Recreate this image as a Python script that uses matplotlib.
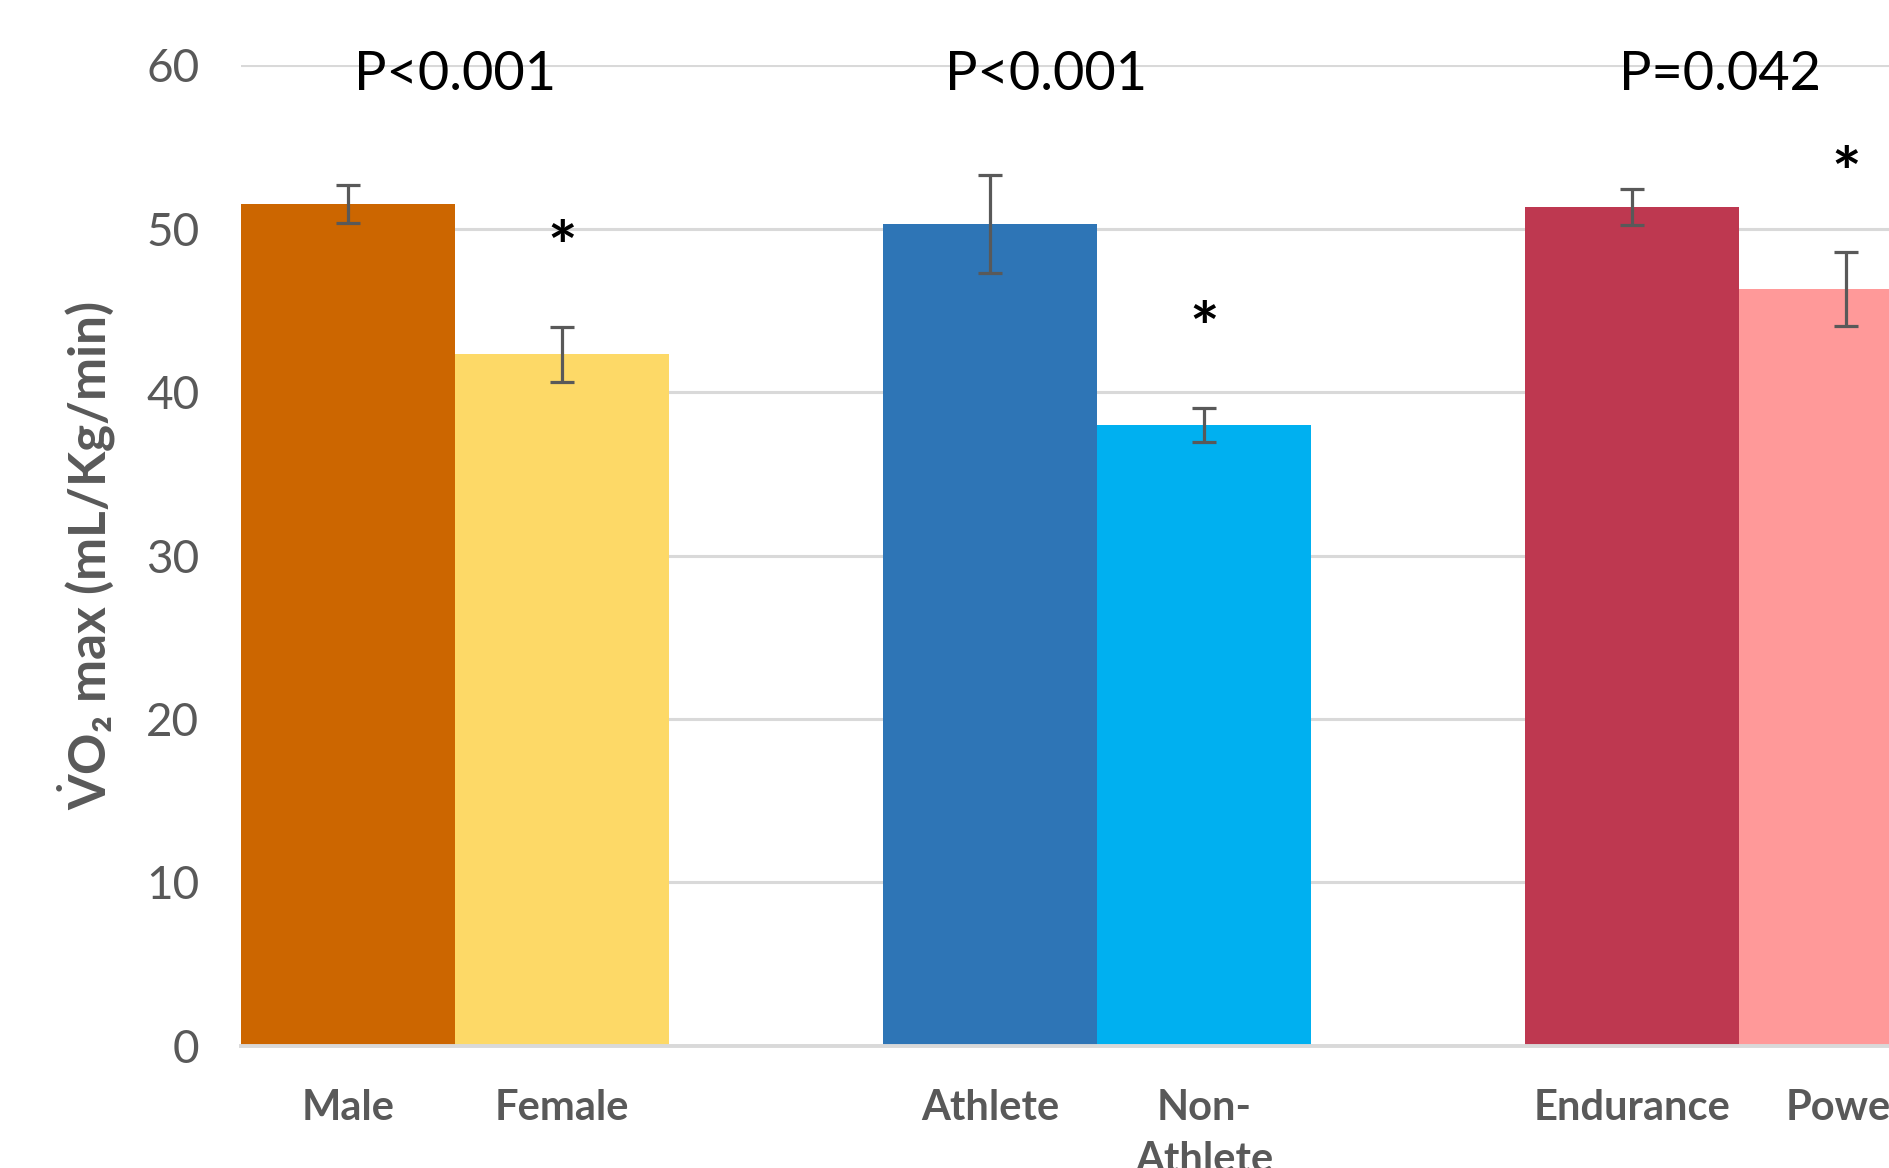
import numpy as np
import matplotlib
matplotlib.use("Agg")
import matplotlib.pyplot as plt

plt.rcParams['font.family'] = ['Lato', 'DejaVu Sans']
plt.rcParams['mathtext.fontset'] = 'custom'
plt.rcParams['mathtext.rm'] = 'Lato'
plt.rcParams['mathtext.bf'] = 'Lato:bold'

# data
categories = ["Male", "Female", "Athlete", "Non-\nAthlete", "Endurance", "Power"]
values = [51.5, 42.3, 50.3, 38.0, 51.3, 46.3]
errors = [1.15, 1.7, 3.0, 1.05, 1.1, 2.25]
bar_colors = ["#CC6600", "#FDD967", "#2E75B6", "#00B0F0", "#BE3850", "#FF9999"]
p_labels = ["P<0.001", "P<0.001", "P=0.042"]
significant = [False, True, False, True, False, True]

fig = plt.figure(figsize=(18.89, 11.68), dpi=100)
# axes runs past the right edge, like the cropped original
ax = fig.add_axes([0.1276, 0.1045, 1.0197, 0.8398])

n_groups = len(p_labels)
bw = 1.0 / 3
centers = np.arange(n_groups) + 0.5
x = np.ravel([[c - bw / 2, c + bw / 2] for c in centers])

ax.bar(x, values, width=bw, color=bar_colors, zorder=2)
ax.errorbar(x, values, yerr=errors, fmt='none', ecolor='#595959',
            elinewidth=2.3, capsize=8.5, capthick=2.3, zorder=3)

# asterisks above the starred bars
for xi, v, e, s in zip(x, values, errors, significant):
    if s:
        ax.text(xi, v + e + 4.6, "*", ha='center', va='center',
                fontsize=50, fontweight='bold', color='black',
                clip_on=False, zorder=4)

p_shift = [0.0, -0.08, -0.03]
for c, lab, sh in zip(centers, p_labels, p_shift):
    ax.text(c + sh, 59.4, lab, ha='center', va='center', fontsize=39,
            color='black', clip_on=False, zorder=4)

ax.set_xlim(bw / 2, n_groups + bw / 2)
ax.set_ylim(0, 60)
ax.set_yticks(np.arange(0, 61, 10))
ax.yaxis.grid(True, color='#D9D9D9', linewidth=2.2, zorder=0)
ax.set_axisbelow(True)
ax.tick_params(axis='y', length=0, pad=30, labelsize=33, labelcolor='#595959')
ax.set_xticks(x)
ax.set_xticklabels(categories, fontsize=30, fontweight='bold', color='#595959',
                   linespacing=1.45)
ax.tick_params(axis='x', length=0, pad=31)
for s in ['top', 'right', 'left']:
    ax.spines[s].set_visible(False)
ax.spines['bottom'].set_color('#D9D9D9')
ax.spines['bottom'].set_linewidth(2.8)

ax.set_ylabel(r"$\dot{\mathbf{V}}$O" + "\u2082 max (mL/Kg/min)", fontsize=37,
              fontweight='bold', color='#595959', labelpad=20)

fig.savefig("out.png", dpi=100)
